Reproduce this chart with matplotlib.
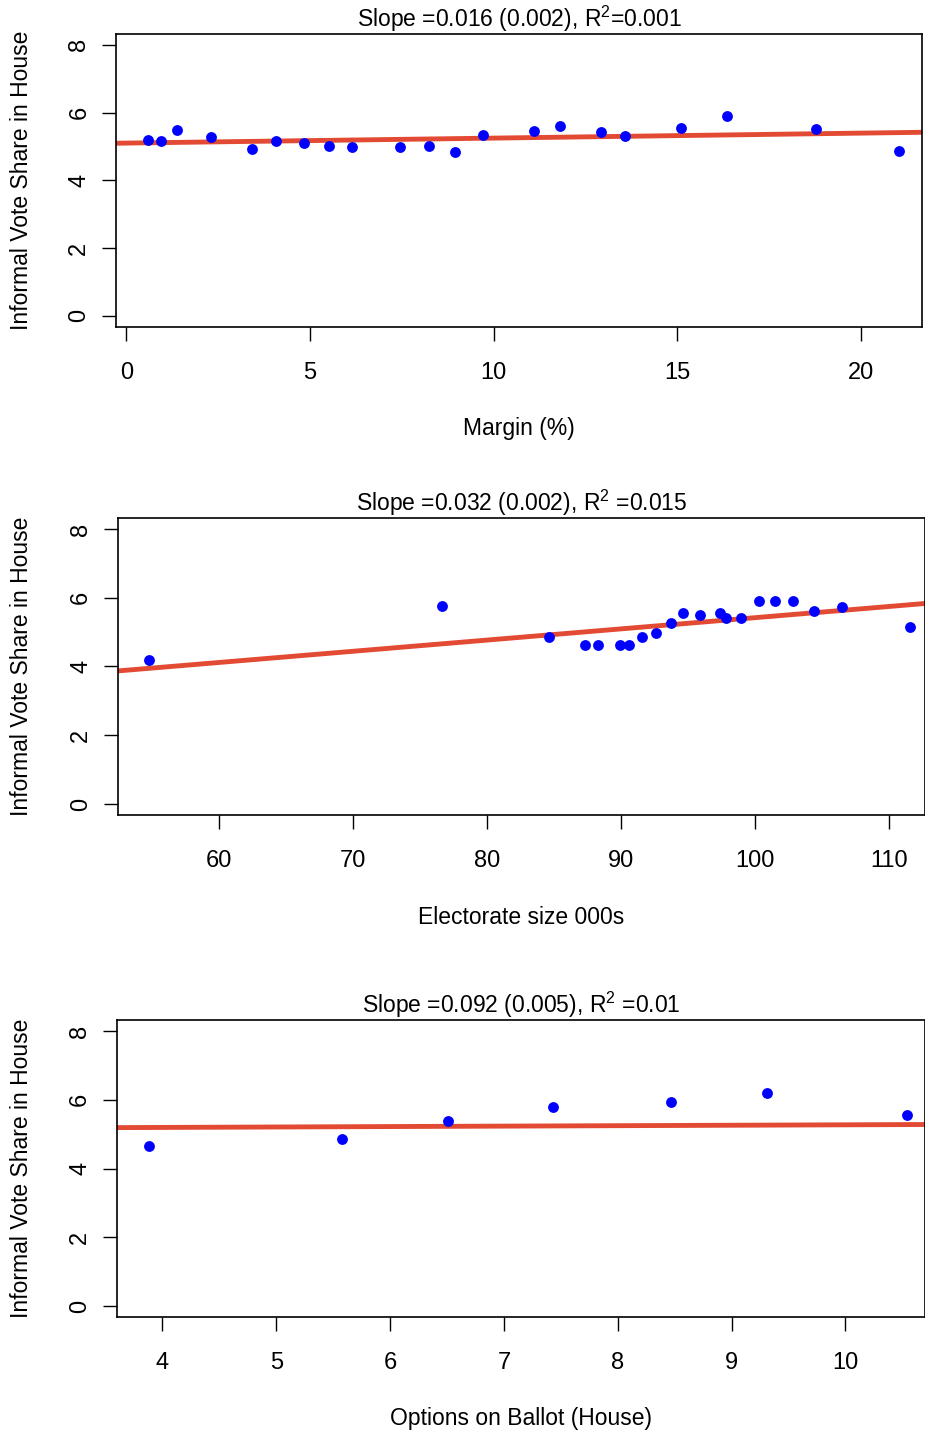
import numpy as np
import matplotlib
matplotlib.use("Agg")
import matplotlib.pyplot as plt

plt.rcParams['font.family'] = ['Liberation Sans', 'DejaVu Sans']
plt.rcParams['mathtext.fontset'] = 'custom'
plt.rcParams['mathtext.rm'] = 'Liberation Sans'
plt.rcParams['mathtext.it'] = 'Liberation Sans:italic'

# --- données ---
margin_pct = [0.575, 0.937, 1.37, 2.29, 3.42, 4.07, 4.84, 5.51, 6.14, 7.46, 8.25,
              8.94, 9.70, 11.10, 11.81, 12.93, 13.57, 15.10, 16.37, 18.77, 21.05]
margin_informal = [5.20, 5.17, 5.50, 5.29, 4.94, 5.16, 5.11, 5.01, 4.98, 4.98, 5.02,
                   4.85, 5.34, 5.47, 5.59, 5.43, 5.32, 5.55, 5.89, 5.52, 4.86]

electorate_k = [54.83, 76.70, 84.64, 87.35, 88.30, 89.96, 90.63, 91.54, 92.65, 93.75, 94.62,
                95.88, 97.38, 97.86, 98.96, 100.31, 101.53, 102.83, 104.37, 106.50, 111.56]
electorate_informal = [4.19, 5.76, 4.85, 4.62, 4.62, 4.62, 4.62, 4.85, 4.96, 5.27, 5.57,
                       5.49, 5.57, 5.40, 5.40, 5.91, 5.91, 5.91, 5.61, 5.72, 5.14]

options_ballot = [3.884, 5.576, 6.511, 7.433, 8.466, 9.308, 10.545]
options_informal = [4.66, 4.85, 5.39, 5.78, 5.94, 6.20, 5.55]

# droites ajustées (ordonnée à l'origine, pente) telles que tracées
fit_lines = [(5.10, 0.0147), (2.16, 0.0326), (5.144, 0.0127)]

titles = [r"Slope =0.016 (0.002), R$^{2}$=0.001",
          r"Slope =0.032 (0.002), R$^{2}$ =0.015",
          r"Slope =0.092 (0.005), R$^{2}$ =0.01"]
xlabels = ["Margin (%)", "Electorate size 000s", "Options on Ballot (House)"]
ylabel = "Informal Vote Share in House"

xticks_list = [[0, 5, 10, 15, 20], [60, 70, 80, 90, 100, 110], [4, 5, 6, 7, 8, 9, 10]]
xlims = [(-0.286, 21.67), (52.48, 112.68), (3.598, 10.70)]

# ==========================================
# Mise en page (pixels -> fraction de figure)
# ==========================================
W, H = 925, 1432
fig = plt.figure(figsize=(W / 100, H / 100), dpi=100)

# (gauche, droite, haut, bas) en pixels
boxes = [(116, 922, 34, 326.7), (117.7, 925, 518, 815), (116.7, 925, 1020, 1317)]
xlabel_y = [428, 917, 1418]

datasets = [(margin_pct, margin_informal), (electorate_k, electorate_informal),
            (options_ballot, options_informal)]

for i, (l, r, t, b) in enumerate(boxes):
    ax = fig.add_axes([l / W, 1 - b / H, (r - l) / W, (b - t) / H])
    x, y = datasets[i]
    ax.plot(x, y, 'o', color='#0000FF', markersize=7.8, markeredgewidth=0, zorder=3)

    a, s = fit_lines[i]
    xl = np.array(xlims[i])
    ax.plot(xl, a + s * xl, color='#E34A33', linewidth=3.5, zorder=2)

    ax.set_xlim(*xlims[i])
    ax.set_ylim(-0.32, 8.32)
    ax.set_xticks(xticks_list[i])
    ax.set_yticks([0, 2, 4, 6, 8])
    ax.tick_params(axis='both', direction='out', length=10, width=1.0, labelsize=17)
    ax.tick_params(axis='x', pad=15.5)
    ax.tick_params(axis='y', pad=8.5)
    for lab in ax.get_yticklabels():
        lab.set_rotation(90)
        lab.set_va('center')
    for sp in ax.spines.values():
        sp.set_linewidth(1.2)

    ax.set_title(titles[i], fontsize=16.5, pad=-1)
    fig.text(((l + r) / 2) / W, 1 - xlabel_y[i] / H, xlabels[i], ha='center', va='center', fontsize=16.5)
    fig.text(22 / W, 1 - ((t + b) / 2) / H, ylabel, ha='center', va='center', rotation=90, fontsize=16.5)

fig.savefig("out.png", dpi=100)
